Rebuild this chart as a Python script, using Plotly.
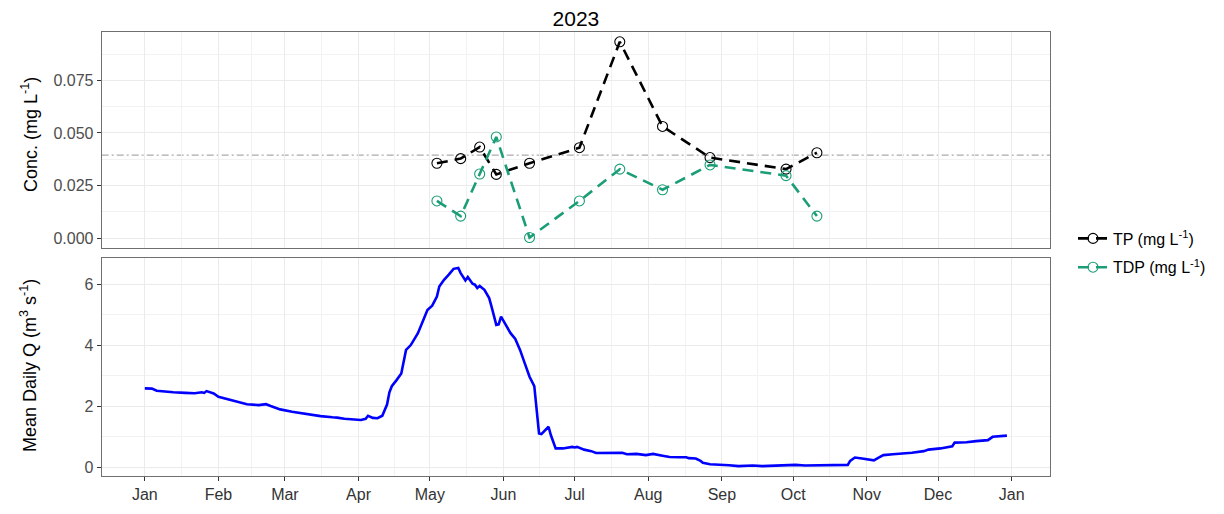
import plotly.graph_objects as go
import pandas as pd

# ---------------- data ----------------
title_text = "2023"
sample_dates = ["2023-05-04", "2023-05-14", "2023-05-22", "2023-05-29", "2023-06-12",
                "2023-07-03", "2023-07-20", "2023-08-07", "2023-08-27", "2023-09-28",
                "2023-10-11"]
tp_values = [0.0356, 0.0378, 0.0433, 0.0303, 0.0356, 0.0430, 0.0933, 0.0531, 0.0383,
             0.0328, 0.0406]
tdp_values = [0.0177, 0.0105, 0.0305, 0.0481, 0.0003, 0.0177, 0.0328, 0.0230, 0.0348,
              0.0297, 0.0105]
reference_level = 0.0395

# mean daily discharge: day offset from 2023-01-01 and value (m3/s)
q_day = [0, 3, 5, 8, 12, 17, 21, 24, 25, 26, 29, 31, 35, 39, 43, 48, 50, 51, 53, 57,
         62, 66, 70, 74, 79, 81, 84, 88, 91, 93, 94, 96, 98, 100, 101, 102, 103, 104,
         106, 108, 110, 112, 115, 119, 121, 123, 124, 126, 128, 130, 132, 133, 135,
         136, 138, 139, 140, 141, 143, 145, 146, 148, 149, 150, 152, 154, 156, 158,
         160, 162, 164, 165, 166, 167, 169, 170, 171, 173, 176, 178, 180, 181, 182,
         185, 188, 190, 195, 201, 203, 207, 211, 214, 218, 221, 225, 228, 229, 232,
         234, 235, 238, 242, 246, 250, 256, 260, 267, 274, 278, 285, 292, 296, 297,
         299, 302, 305, 307, 309, 311, 315, 319, 323, 328, 330, 335, 339, 340, 341,
         346, 350, 355, 357, 360, 363]
q_values = [2.58, 2.57, 2.50, 2.47, 2.45, 2.43, 2.42, 2.45, 2.43, 2.49, 2.41, 2.30,
            2.22, 2.12, 2.06, 2.03, 2.05, 2.06, 2.00, 1.89, 1.81, 1.76, 1.72, 1.67,
            1.63, 1.62, 1.58, 1.55, 1.54, 1.58, 1.68, 1.61, 1.60, 1.68, 1.85, 2.05,
            2.45, 2.65, 2.85, 3.07, 3.84, 4.00, 4.39, 5.15, 5.29, 5.59, 5.92, 6.14,
            6.31, 6.50, 6.53, 6.36, 6.12, 6.23, 6.01, 5.98, 5.87, 5.94, 5.81, 5.54,
            5.26, 4.66, 4.68, 4.93, 4.66, 4.39, 4.20, 3.84, 3.40, 2.96, 2.65, 1.87,
            1.10, 1.08, 1.26, 1.32, 1.04, 0.61, 0.61, 0.63, 0.66, 0.64, 0.66, 0.57,
            0.52, 0.46, 0.46, 0.47, 0.42, 0.43, 0.39, 0.43, 0.37, 0.33, 0.32, 0.32,
            0.29, 0.28, 0.20, 0.14, 0.09, 0.08, 0.06, 0.03, 0.05, 0.03, 0.06, 0.07,
            0.05, 0.05, 0.05, 0.07, 0.20, 0.31, 0.28, 0.25, 0.22, 0.31, 0.39, 0.42,
            0.44, 0.47, 0.52, 0.57, 0.61, 0.65, 0.68, 0.80, 0.81, 0.85, 0.88, 0.99,
            1.00, 1.03]

month_labels = ["Jan", "Feb", "Mar", "Apr", "May", "Jun", "Jul", "Aug", "Sep", "Oct",
                "Nov", "Dec", "Jan"]
conc_ticks = [0.0, 0.025, 0.05, 0.075]
conc_ticktext = ["0.000", "0.025", "0.050", "0.075"]
q_ticks = [0, 2, 4, 6]

series_names = ["TP (mg L<sup>-1</sup>)", "TDP (mg L<sup>-1</sup>)"]
series_colors = ["#000000", "#1B9E77"]

# ---------------- derived ----------------
start = pd.Timestamp("2023-01-01")
q_dates = start + pd.to_timedelta(q_day, unit="D")
s_dates = pd.to_datetime(sample_dates)

month_ticks = pd.date_range("2023-01-01", "2024-01-01", freq="MS")
minor_ticks = [month_ticks[i] + (month_ticks[i + 1] - month_ticks[i]) / 2
               for i in range(len(month_ticks) - 1)]

xmin, xmax = q_dates.min(), q_dates.max()
xpad = (xmax - xmin) * 0.05
xrange = [xmin - xpad, xmax + xpad]

cmin = min(min(tp_values), min(tdp_values), 0)
cmax = max(max(tp_values), max(tdp_values))
cpad = (cmax - cmin) * 0.05
crange = [cmin - cpad, cmax + cpad]

qmin, qmax = min(q_values), max(q_values)
qpad = (qmax - qmin) * 0.05
qrange = [qmin - qpad, qmax + qpad]

# page body has an 8px margin; lay out in window pixels then convert
OFF = 8
W, H = 1224 - OFF, 514 - OFF


def px(x):
    return (x - OFF) / W


def py(y):
    return 1 - (y - OFF) / H


xdom = [px(101.7), px(1050)]
ydom_top = [py(248), py(32)]
ydom_bot = [py(476), py(258)]

FONT = "Liberation Sans, Arial, sans-serif"
GRID = "#EBEBEB"
MINOR = "#F2F2F2"
BORDER = "#707070"

fig = go.Figure()

for name, vals, col in zip(series_names, [tp_values, tdp_values], series_colors):
    fig.add_trace(go.Scatter(
        x=s_dates, y=vals, name=name, xaxis="x", yaxis="y",
        legendgroup=name,
        mode="lines+markers",
        line=dict(color=col, width=2.6, dash="11px,7px"),
        marker=dict(symbol="circle-open", size=10, color=col,
                    line=dict(width=1.1, color=col)),
    ))

fig.add_trace(go.Scatter(
    x=q_dates, y=q_values, xaxis="x2", yaxis="y2", mode="lines",
    line=dict(color="#0000FF", width=2.6), showlegend=False,
))

fig.add_shape(type="line", xref="x domain", yref="y", x0=0, x1=1,
              y0=reference_level, y1=reference_level, layer="below",
              line=dict(color="#ABABAB", width=1.2, dash="7px,3px,2px,3px"))

common_x = dict(
    range=xrange, type="date", tickmode="array", tickvals=month_ticks,
    showgrid=True, gridcolor=GRID, gridwidth=1, zeroline=False,
    showline=True, mirror=True, linecolor=BORDER, linewidth=1,
    minor=dict(tickvals=minor_ticks, showgrid=True, gridcolor=MINOR, gridwidth=1),
    automargin=False, domain=xdom,
)

fig.update_layout(
    width=W, height=H,
    margin=dict(l=0, r=0, t=0, b=0),
    paper_bgcolor="white", plot_bgcolor="white",
    font=dict(family=FONT, color="#000000"),
    title=dict(text=title_text, x=px(575.9), y=py(19), xanchor="center",
               yanchor="middle", font=dict(size=21, family=FONT, color="#000000")),
    xaxis=dict(common_x, anchor="y", showticklabels=False, ticks=""),
    xaxis2=dict(common_x, anchor="y2", matches="x", ticktext=month_labels,
                showticklabels=True, ticks="outside", ticklen=4, tickcolor="#333333",
                tickfont=dict(size=16, color="#333333")),
    yaxis=dict(domain=ydom_top, range=crange, tickmode="array", tickvals=conc_ticks,
               ticktext=conc_ticktext, ticks="outside", ticklen=4, tickcolor="#333333",
               tickfont=dict(size=16, color="#4D4D4D"),
               showgrid=True, gridcolor=GRID, zeroline=False,
               showline=True, mirror=True, linecolor=BORDER, linewidth=1,
               minor=dict(tickvals=[0.0125, 0.0375, 0.0625, 0.0875], showgrid=True,
                          gridcolor=MINOR),
               automargin=False, anchor="x"),
    yaxis2=dict(domain=ydom_bot, range=qrange, tickmode="array", tickvals=q_ticks,
                ticks="outside", ticklen=4, tickcolor="#333333",
                tickfont=dict(size=16, color="#4D4D4D"),
                showgrid=True, gridcolor=GRID, zeroline=False,
                showline=True, mirror=True, linecolor=BORDER, linewidth=1,
                minor=dict(tickvals=[1, 3, 5], showgrid=True, gridcolor=MINOR),
                automargin=False, anchor="x2"),
    legend=dict(x=px(1073), y=py(253), xanchor="left", yanchor="middle",
                font=dict(size=16, family=FONT, color="#000000"),
                bgcolor="rgba(0,0,0,0)", borderwidth=0, tracegroupgap=5),
    showlegend=True,
)

fig.add_annotation(text="Conc. (mg L<sup>-1</sup>)", xref="paper", yref="paper",
                   x=px(29), y=py(135), xanchor="center", yanchor="middle",
                   textangle=-90, showarrow=False,
                   font=dict(size=18, family=FONT, color="#000000"))
fig.add_annotation(text="Mean Daily Q (m<sup>3</sup> s<sup>-1</sup>)", xref="paper",
                   yref="paper", x=px(28), y=py(366), xanchor="center",
                   yanchor="middle", textangle=-90, showarrow=False,
                   font=dict(size=18, family=FONT, color="#000000"))

fig.write_html("out.html")
